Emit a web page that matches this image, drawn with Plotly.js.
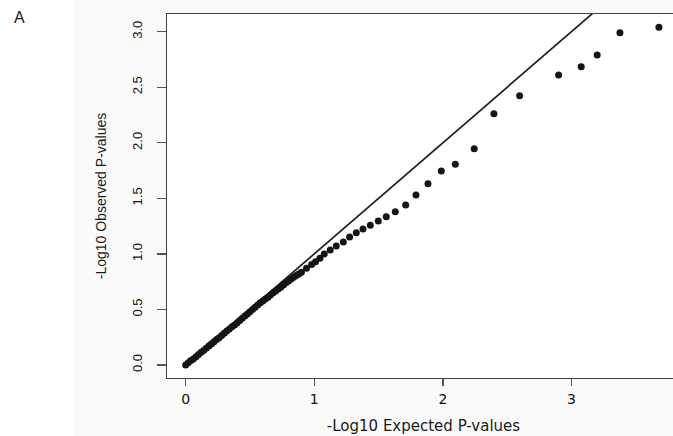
<!DOCTYPE html>
<html>
<head>
<meta charset="utf-8">
<script src="https://cdn.plot.ly/plotly-3.0.1.min.js"></script>
<style>
html, body { margin:0; padding:0; width:673px; height:436px; overflow:hidden; background:#ffffff; }
#chart { width:680px; height:436px; }
</style>
</head>
<body>
<div id="chart"></div>
<script>
// -Log10 expected p-values (x) and observed p-values (y)
const expectedP = [
  0.00, 0.02, 0.04, 0.06, 0.08, 0.10, 0.12, 0.14, 0.16, 0.18,
  0.20, 0.22, 0.24, 0.26, 0.28, 0.30, 0.32, 0.34, 0.36, 0.38,
  0.40, 0.42, 0.44, 0.46, 0.48, 0.50, 0.52, 0.54, 0.56, 0.58,
  0.60, 0.62, 0.64, 0.66, 0.68, 0.70, 0.72, 0.74, 0.76, 0.78,
  0.80, 0.82, 0.84, 0.86, 0.88, 0.90, 0.94, 0.98, 1.01, 1.044,
  1.078, 1.124, 1.171, 1.226, 1.275, 1.327, 1.379, 1.436, 1.498, 1.56,
  1.63, 1.711, 1.791, 1.884, 1.988, 2.097, 2.244, 2.397, 2.597, 2.90,
  3.076, 3.20, 3.377, 3.68
];
const observedP = [
  0.00, 0.02, 0.04, 0.055, 0.075, 0.095, 0.115, 0.13, 0.15, 0.17,
  0.19, 0.21, 0.23, 0.245, 0.265, 0.285, 0.305, 0.325, 0.345, 0.36,
  0.38, 0.40, 0.42, 0.44, 0.46, 0.48, 0.50, 0.52, 0.54, 0.56,
  0.575, 0.595, 0.61, 0.63, 0.65, 0.665, 0.685, 0.70, 0.72, 0.74,
  0.755, 0.775, 0.79, 0.805, 0.82, 0.835, 0.87, 0.905, 0.93, 0.96,
  1.0, 1.035, 1.07, 1.107, 1.152, 1.191, 1.224, 1.257, 1.296, 1.335,
  1.38, 1.44, 1.53, 1.632, 1.746, 1.806, 1.947, 2.262, 2.424, 2.61,
  2.685, 2.79, 2.99, 3.04
];
// reference line y = x
const refX = [0, 4];
const refY = [0, 4];
// tick labels
const xTicks = [0, 1, 2, 3];
const xTickText = ["0", "1", "2", "3"];
const yTicks = [0, 0.5, 1, 1.5, 2, 2.5, 3];
const yTickText = ["0.0", "0.5", "1.0", "1.5", "2.0", "2.5", "3.0"];

const traces = [
  {
    x: refX, y: refY, type: 'scatter', mode: 'lines',
    line: { color: '#1e1e1e', width: 1.7 }, hoverinfo: 'skip', showlegend: false
  },
  {
    x: expectedP, y: observedP, type: 'scatter', mode: 'markers',
    marker: { color: '#151515', size: 7, symbol: 'circle' }, showlegend: false
  }
];

const layout = {
  width: 680, height: 436,
  margin: { l: 167, r: 0, t: 14, b: 58 },
  paper_bgcolor: '#fafafa',
  plot_bgcolor: '#ffffff',
  showlegend: false,
  xaxis: {
    range: [-0.145, 3.844],
    tickmode: 'array', tickvals: xTicks, ticktext: xTickText,
    ticks: 'outside', ticklen: 7, tickwidth: 1.3, tickcolor: '#555555',
    showline: true, linecolor: '#444444', linewidth: 1.3, mirror: true,
    showgrid: false, zeroline: false,
    ticklabelstandoff: 1,
    tickfont: { family: 'DejaVu Sans, Liberation Sans, sans-serif', size: 14, color: '#111111' },
    title: { text: '-Log10 Expected P-values', standoff: 14,
             font: { family: 'DejaVu Sans, Liberation Sans, sans-serif', size: 15, color: '#1a1a1a' } }
  },
  yaxis: {
    range: [-0.117, 3.159],
    tickmode: 'array', tickvals: yTicks, ticktext: yTickText,
    tickangle: -90,
    ticks: 'outside', ticklen: 9, tickwidth: 1.3, tickcolor: '#555555',
    showline: true, linecolor: '#444444', linewidth: 1.3, mirror: true,
    showgrid: false, zeroline: false,
    ticklabelstandoff: 10,
    tickfont: { family: 'Liberation Sans, Arial, sans-serif', size: 13, color: '#111111' },
    title: { text: '-Log10 Observed P-values', standoff: 19,
             font: { family: 'Liberation Sans Narrow, Liberation Sans, Arial, sans-serif', size: 14, color: '#1a1a1a' } }
  },
  shapes: [
    { type: 'rect', xref: 'paper', yref: 'paper', layer: 'below',
      x0: -0.34, x1: (73 - 167) / 513, y0: -0.2, y1: 1.05,
      fillcolor: '#ffffff', line: { width: 0 } }
  ],
  annotations: [
    { text: 'A', xref: 'paper', yref: 'paper', x: (19 - 167) / 513, y: 0.99,
      xanchor: 'center', yanchor: 'middle', showarrow: false,
      font: { family: 'Liberation Sans, Arial, sans-serif', size: 16, color: '#1a1a1a' } }
  ]
};

Plotly.newPlot('chart', traces, layout, { displayModeBar: false, staticPlot: true });
</script>
</body>
</html>
